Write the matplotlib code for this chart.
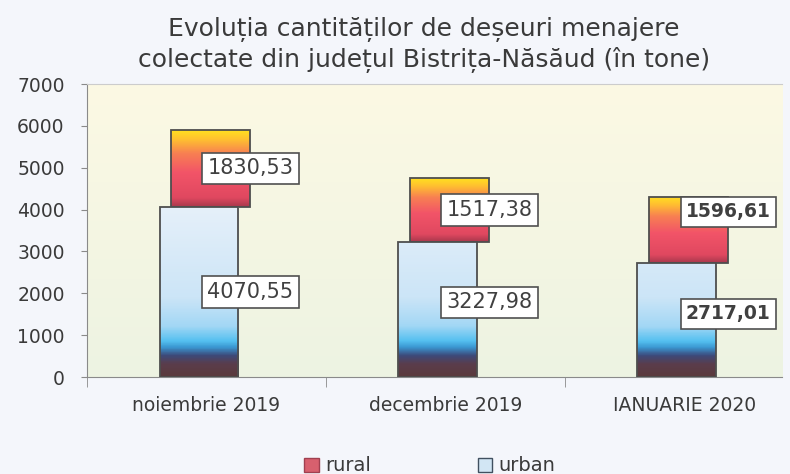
import numpy as np
import matplotlib.pyplot as plt
from matplotlib.colors import LinearSegmentedColormap, Normalize
from matplotlib.patches import Patch

# ── Data ───────────────────────────────────────────────────────────────────────
months = ["noiembrie 2019", "decembrie 2019", "IANUARIE 2020"]
urban = [4070.55, 3227.98, 2717.01]
rural = [1830.53, 1517.38, 1596.61]

# ── Layout / style ────────────────────────────────────────────────────────────
fig_bg = '#f4f6fb'
txt_col = '#3a3a3a'
edge_col = '#4e4e4e'
bar_w = 0.33
urban_dx = -0.031
rural_dx = 0.017
label_dx = 0.185
rural_nudge = [0, 0, 430]     # label y shifts as in the original
urban_nudge = [0, 170, 150]
bold_labels = [False, False, True]

urban_cmap = LinearSegmentedColormap.from_list('urban', [
    (0.0, '#5b3a3c'), (300/4100, '#5a3d4c'), (500/4100, '#3d4a7a'),
    (700/4100, '#3b98d2'), (850/4100, '#55c0f0'), (1200/4100, '#a2d7f5'),
    (1900/4100, '#cce5f7'), (1.0, '#e6f0fa')])
urban_norm = Normalize(0, 4100)
rural_cmap = LinearSegmentedColormap.from_list('rural', [
    (0.0, '#a8384c'), (0.12, '#e04860'), (0.45, '#f25468'),
    (0.7, '#f88052'), (0.88, '#ffc030'), (1.0, '#ffe020')])
bg_cmap = LinearSegmentedColormap.from_list('bg', ['#edf3e2', '#fcf9e4'])

plt.rcParams['font.family'] = ['DejaVu Sans']

fig = plt.figure(figsize=(7.9, 4.74), dpi=100, facecolor=fig_bg)
ax = fig.add_axes([0.110, 0.2046, 0.880, 0.618])

xlim = (-0.5, 2.41)
ylim = (0, 7000)
ax.imshow(np.linspace(1, 0, 100).reshape(-1, 1), cmap=bg_cmap,
          extent=(*xlim, *ylim), aspect='auto', zorder=0)

x = np.arange(len(months))

def fill_gradient(bars, values, cmap, norm=None):
    for b, v in zip(bars, values):
        x0, y0 = b.get_x(), b.get_y()
        x1, y1 = x0 + b.get_width(), y0 + b.get_height()
        if norm is None:
            arr = np.linspace(1, 0, 200).reshape(-1, 1)
            im = ax.imshow(arr, cmap=cmap, vmin=0, vmax=1,
                           extent=(x0, x1, y0, y1), aspect='auto',
                           zorder=b.get_zorder() - 0.05)
        else:
            arr = np.linspace(y1, y0, 200).reshape(-1, 1)
            im = ax.imshow(arr, cmap=cmap, norm=norm,
                           extent=(x0, x1, y0, y1), aspect='auto',
                           zorder=b.get_zorder() - 0.05)
        im.set_clip_path(b)

# rural bar sits behind, shifted right, stacked on urban
rb = ax.bar(x + rural_dx, rural, bar_w, bottom=urban, facecolor='none',
            edgecolor=edge_col, lw=1.3, zorder=2)
fill_gradient(rb, rural, rural_cmap)
ub = ax.bar(x + urban_dx, urban, bar_w, facecolor='none',
            edgecolor=edge_col, lw=1.3, zorder=3)
fill_gradient(ub, urban, urban_cmap, urban_norm)

def fmt(v):
    return f"{v:.2f}".replace('.', ',')

for i in range(len(months)):
    bold = bold_labels[i]
    kw = dict(ha='center', va='center', color='#404040', zorder=6,
              fontsize=13.5 if bold else 15,
              fontweight='bold' if bold else 'normal',
              bbox=dict(boxstyle='square,pad=0.28', facecolor='white',
                        edgecolor='#505050', lw=1.2))
    ax.text(x[i] + label_dx, urban[i] + rural[i] / 2 + rural_nudge[i],
            fmt(rural[i]), **kw)
    ax.text(x[i] + label_dx, urban[i] / 2 + urban_nudge[i],
            fmt(urban[i]), **kw)

ax.set_xlim(*xlim)
ax.set_ylim(*ylim)

ax.set_xticks(x)
ax.set_xticklabels(months, fontsize=13.5, color=txt_col)
ax.set_xticks([-0.5, 0.5, 1.5], minor=True)
ax.tick_params(axis='x', which='major', length=0, pad=14)
ax.tick_params(axis='x', which='minor', length=7, color='#8a8a8a')
ax.set_yticks(np.arange(0, 7001, 1000))
ax.tick_params(axis='y', length=4, pad=12, color='#8a8a8a',
               labelsize=13.5, labelcolor=txt_col)

for s in ['left', 'bottom']:
    ax.spines[s].set_color('#8a8a8a')
ax.spines['top'].set_color('#cccccc')
ax.spines['right'].set_visible(False)

fig.text(0.537, 0.905,
         "Evoluția cantităților de deșeuri menajere\n"
         "colectate din județul Bistrița-Năsăud (în tone)",
         ha='center', va='center', fontsize=18, color=txt_col,
         linespacing=1.25)

handles = [Patch(facecolor='#d8606e', edgecolor='#a04050'),
           Patch(facecolor='#d2e6f4', edgecolor='#405060')]
fig.legend(handles, ['rural', 'urban'], loc='center',
           bbox_to_anchor=(0.544, 0.017), ncol=2, frameon=False,
           fontsize=14, handlelength=0.75, handleheight=0.75,
           handletextpad=0.3, columnspacing=5.5, labelcolor=txt_col,
           borderpad=0)

fig.savefig('out.png', dpi=100, facecolor=fig_bg)
